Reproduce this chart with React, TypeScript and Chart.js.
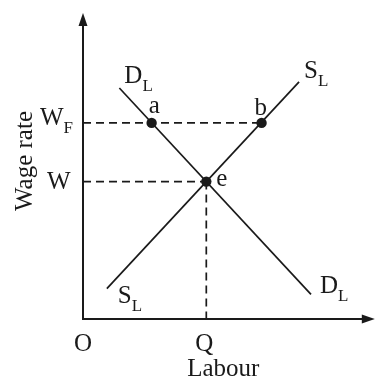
import React, { useEffect, useRef } from "react";
import { Chart, registerables } from "chart.js";

Chart.register(...registerables);

// Data (abstract units: x = labour, y = wage rate)
const demandCurve = [
  { x: 1.25, y: 7.6 },
  { x: 7.84, y: 0.81 },
];
const supplyCurve = [
  { x: 0.82, y: 1.0 },
  { x: 7.43, y: 7.8 },
];
const pointA = { x: 2.36, y: 6.45 };
const pointB = { x: 6.14, y: 6.45 };
const pointE = { x: 4.24, y: 4.52 };
const axisMax = { x: 10, y: 10 };

const FONT = '"Liberation Serif", "Times New Roman", serif';
const INK = "#1a1a1a";

export default function App() {
  const ref = useRef<HTMLCanvasElement | null>(null);

  useEffect(() => {
    const canvas = ref.current;
    if (!canvas) return;

    const overlay = {
      id: "econOverlay",
      afterDatasetsDraw(chart: any) {
        const ctx = chart.ctx as CanvasRenderingContext2D;
        const xs = chart.scales.x;
        const ys = chart.scales.y;
        const px = (v: number) => xs.getPixelForValue(v);
        const py = (v: number) => ys.getPixelForValue(v);
        const ox = px(0);
        const oy = py(0);
        const top = py(axisMax.y);
        const right = px(axisMax.x);

        ctx.save();
        // axes
        ctx.strokeStyle = INK;
        ctx.fillStyle = INK;
        ctx.lineWidth = 2;
        ctx.beginPath();
        ctx.moveTo(ox, oy);
        ctx.lineTo(ox, top + 10);
        ctx.moveTo(ox - 1, oy);
        ctx.lineTo(right - 10, oy);
        ctx.stroke();
        // arrow heads
        ctx.beginPath();
        ctx.moveTo(ox, top - 2);
        ctx.lineTo(ox - 4.5, top + 11);
        ctx.lineTo(ox + 4.5, top + 11);
        ctx.closePath();
        ctx.fill();
        ctx.beginPath();
        ctx.moveTo(right + 1, oy);
        ctx.lineTo(right - 12, oy - 4.5);
        ctx.lineTo(right - 12, oy + 4.5);
        ctx.closePath();
        ctx.fill();

        const main = `25px ${FONT}`;
        const sub = `17px ${FONT}`;
        ctx.textBaseline = "alphabetic";

        const txt = (s: string, x: number, y: number, align: CanvasTextAlign = "left") => {
          ctx.font = main;
          ctx.textAlign = align;
          ctx.fillText(s, x, y);
        };
        const txtSub = (s: string, sb: string, x: number, y: number) => {
          ctx.font = main;
          ctx.textAlign = "left";
          ctx.fillText(s, x, y);
          const w = ctx.measureText(s).width;
          ctx.font = sub;
          ctx.fillText(sb, x + w, y + 8);
        };

        // point labels
        txt("a", px(pointA.x) - 3, py(pointA.y) - 10);
        txt("b", px(pointB.x) - 7, py(pointB.y) - 8);
        txt("e", px(pointE.x) + 10, py(pointE.y) + 4);

        // axis value labels
        txtSub("W", "F", ox - 43, py(pointA.y) + 2);
        txt("W", ox - 36, py(pointE.y) + 7);
        txt("O", ox, oy + 32, "center");
        txt("Q", px(pointE.x) - 2, oy + 32, "center");
        txt("Labour", px(pointE.x) + 17, oy + 57, "center");

        // curve labels
        txtSub("D", "L", px(demandCurve[0].x) + 5, py(demandCurve[0].y) - 5);
        txtSub("D", "L", px(demandCurve[1].x) + 9, py(demandCurve[1].y) - 1);
        txtSub("S", "L", px(supplyCurve[1].x) + 5, py(supplyCurve[1].y) - 4);
        txtSub("S", "L", px(supplyCurve[0].x) + 11, py(supplyCurve[0].y) + 14);

        // y axis title
        ctx.save();
        ctx.translate(ox - 51, (top + oy) / 2 - 6);
        ctx.rotate(-Math.PI / 2);
        ctx.font = main;
        ctx.textAlign = "center";
        ctx.fillText("Wage rate", 0, 0);
        ctx.restore();

        ctx.restore();
      },
    };

    const solid = { borderColor: INK, borderWidth: 1.7, pointRadius: 0, showLine: true, clip: false as any, fill: false };
    const dashed = { ...solid, borderWidth: 1.7, borderDash: [8, 5] };

    const chart = new Chart(canvas, {
      type: "scatter",
      data: {
        datasets: [
          { ...dashed, data: [{ x: 0, y: pointA.y }, { x: pointB.x, y: pointB.y }] },
          { ...dashed, data: [{ x: 0, y: pointE.y }, { x: pointE.x, y: pointE.y }] },
          { ...dashed, data: [{ x: pointE.x, y: pointE.y }, { x: pointE.x, y: 0 }] },
          { ...solid, data: demandCurve },
          { ...solid, data: supplyCurve },
          {
            data: [pointA, pointB, pointE],
            showLine: false,
            pointRadius: 5.2,
            pointBackgroundColor: INK,
            pointBorderColor: INK,
            pointBorderWidth: 0,
            clip: false as any,
          },
        ],
      },
      options: {
        responsive: false,
        animation: false,
        events: [],
        layout: { padding: { left: 83, top: 15, right: 1, bottom: 59 } },
        plugins: { legend: { display: false }, tooltip: { enabled: false } },
        scales: {
          x: { type: "linear", min: 0, max: axisMax.x, display: false },
          y: { type: "linear", min: 0, max: axisMax.y, display: false },
        },
      },
      plugins: [overlay],
    });

    return () => chart.destroy();
  }, []);

  return (
    <div style={{ position: "fixed", left: 0, top: 0, width: 379, height: 378, background: "#fff" }}>
      <canvas ref={ref} width={379} height={378} style={{ display: "block" }} />
    </div>
  );
}
